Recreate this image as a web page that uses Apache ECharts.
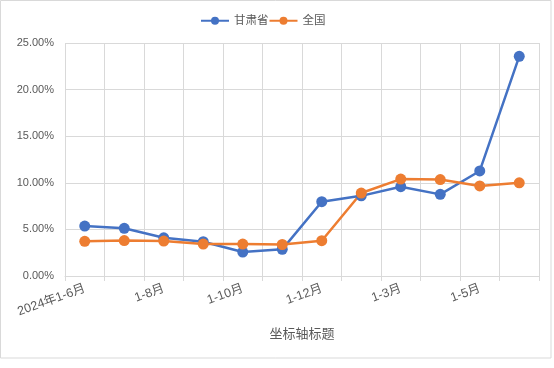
<!DOCTYPE html>
<html><head><meta charset="utf-8">
<script src="https://cdn.jsdelivr.net/npm/echarts@6/dist/echarts.min.js"></script>
<style>html,body{margin:0;padding:0;background:#fff}#c{width:554px;height:368px}</style>
</head><body><div id="c"></div>
<script>
const categories = ['2024年1-6月','1-7月','1-8月','1-9月','1-10月','1-11月','1-12月','2025年1-2月','1-3月','1-4月','1-5月','1-6月'];
const gansu = [5.36, 5.12, 4.10, 3.68, 2.57, 2.86, 7.97, 8.60, 9.58, 8.76, 11.27, 23.57];
const national = [3.72, 3.80, 3.75, 3.43, 3.43, 3.38, 3.79, 8.90, 10.40, 10.35, 9.66, 10.00];
const seriesNames = ['甘肃省', '全国'];
const axisTitle = '坐标轴标题';
const yTicks = {min: 0, max: 25, interval: 5};

const font = '"Liberation Sans", "Noto Sans CJK SC", sans-serif';
const chart = echarts.init(document.getElementById('c'), null, {renderer: 'canvas'});
chart.setOption({
  animation: false,
  textStyle: {fontFamily: font},
  graphic: [{type: 'rect', shape: {x: 0.5, y: 0.5, width: 550.5, height: 357.5}, style: {fill: 'none', stroke: '#d9d9d9', lineWidth: 1}, silent: true, z: -1}],
  legend: {
    top: 10, left: 195, itemWidth: 28, itemHeight: 10, itemGap: 0,
    textStyle: {color: '#595959', fontSize: 11.5, fontFamily: font},
    data: seriesNames
  },
  grid: {left: 65, right: 15, top: 43, bottom: 92, containLabel: false},
  xAxis: {
    type: 'category', data: categories, boundaryGap: true,
    axisLine: {show: true, lineStyle: {color: '#d9d9d9'}},
    axisTick: {show: true, interval: 0, length: 5, lineStyle: {color: '#d9d9d9'}},
    splitLine: {show: true, interval: 0, lineStyle: {color: '#d9d9d9'}},
    axisLabel: {interval: 1, rotate: 20, color: '#595959', fontSize: 12.5, margin: 12},
    name: axisTitle, nameLocation: 'middle', nameGap: 52,
    nameTextStyle: {color: '#595959', fontSize: 13}
  },
  yAxis: {
    type: 'value', min: yTicks.min, max: yTicks.max, interval: yTicks.interval,
    axisLine: {show: false}, axisTick: {show: false},
    splitLine: {lineStyle: {color: '#d9d9d9'}},
    axisLabel: {color: '#595959', fontSize: 11, margin: 11, formatter: v => v.toFixed(2) + '%'}
  },
  series: [
    {name: seriesNames[0], type: 'line', data: gansu, symbol: 'circle', symbolSize: 11,
     lineStyle: {color: '#4472C4', width: 2.5}, itemStyle: {color: '#4472C4'}},
    {name: seriesNames[1], type: 'line', data: national, symbol: 'circle', symbolSize: 11,
     lineStyle: {color: '#ED7D31', width: 2.5}, itemStyle: {color: '#ED7D31'}}
  ]
});
</script></body></html>
